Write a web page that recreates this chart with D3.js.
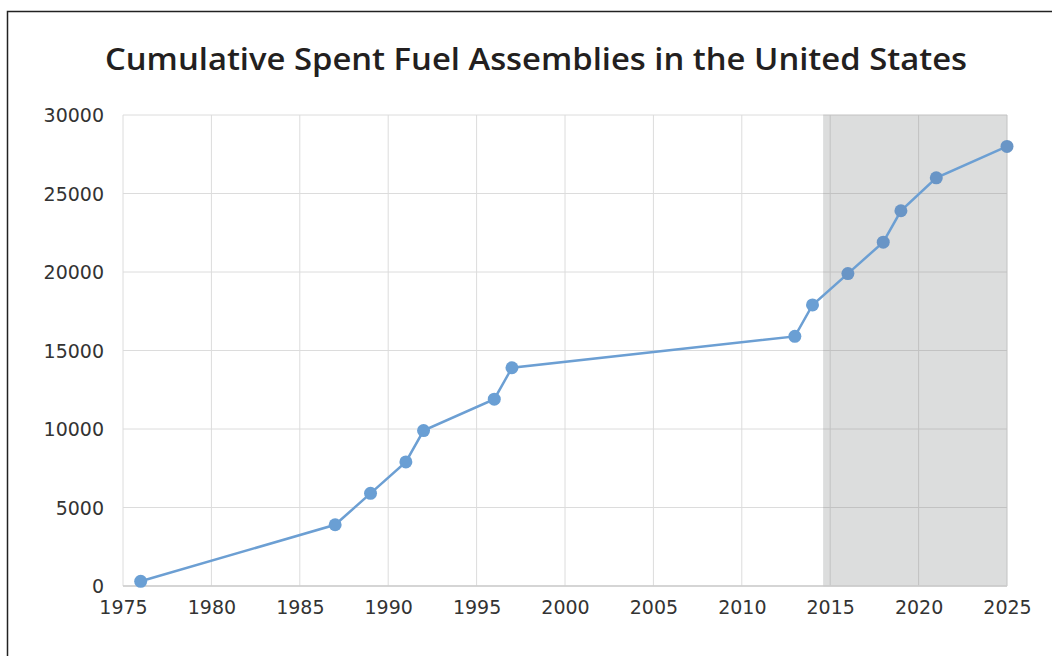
<!DOCTYPE html>
<html><head><meta charset="utf-8">
<script src="https://cdn.jsdelivr.net/npm/d3@7"></script>
<style>body{margin:0;background:#fff;} svg{display:block;}</style>
</head><body>
<svg id="chart" width="1052" height="656"></svg>
<script>
const years = [1976, 1987, 1989, 1991, 1992, 1996, 1997, 2013, 2014, 2016, 2018, 2019, 2021, 2025];
const assemblies = [300, 3900, 5900, 7900, 9900, 11900, 13900, 15900, 17900, 19900, 21900, 23900, 26000, 28000];
const xTicks = [1975, 1980, 1985, 1990, 1995, 2000, 2005, 2010, 2015, 2020, 2025];
const yTicks = [0, 5000, 10000, 15000, 20000, 25000, 30000];
const shadeStart = [2014.6];
const title = "Cumulative Spent Fuel Assemblies in the United States";

const svg = d3.select("#chart");
const x = d3.scaleLinear().domain([1975, 2025]).range([123, 1007]);
const y = d3.scaleLinear().domain([0, 30000]).range([586, 115]);

// frame
svg.append("path").attr("d", "M7.5,656 L7.5,11.5 L1052,11.5")
  .attr("fill", "none").attr("stroke", "#222").attr("stroke-width", 1.5);

// title
svg.append("text").attr("x", 536).attr("y", 70).attr("text-anchor", "middle")
  .attr("font-family", "'Open Sans', Lato, sans-serif").attr("font-weight", 600)
  .attr("font-size", 31).attr("fill", "#231f20")
  .attr("textLength", 862).attr("lengthAdjust", "spacingAndGlyphs").text(title);

// shaded region
svg.append("rect").attr("x", x(shadeStart[0])).attr("y", y(30000))
  .attr("width", x(2025) - x(shadeStart[0])).attr("height", y(0) - y(30000))
  .attr("fill", "#dcdddd");

// gridlines
const grid = svg.append("g");
xTicks.forEach(t => {
  grid.append("line").attr("x1", x(t)).attr("x2", x(t)).attr("y1", y(30000)).attr("y2", y(0))
    .attr("stroke", t >= shadeStart[0] ? "#c2c2c2" : "#dcdcdc").attr("stroke-width", 1);
});
yTicks.forEach(t => {
  grid.append("line").attr("x1", x(1975)).attr("x2", x(shadeStart[0])).attr("y1", y(t)).attr("y2", y(t))
    .attr("stroke", "#dcdcdc").attr("stroke-width", 1);
  grid.append("line").attr("x1", x(shadeStart[0])).attr("x2", x(2025)).attr("y1", y(t)).attr("y2", y(t))
    .attr("stroke", "#c2c2c2").attr("stroke-width", 1);
});
// axis baseline
svg.append("line").attr("x1", x(1975)).attr("x2", x(2025)).attr("y1", y(0)).attr("y2", y(0))
  .attr("stroke", "#cccccc").attr("stroke-width", 1.5);

// axes
const xAxis = svg.append("g").attr("transform", `translate(0,${y(0)})`)
  .call(d3.axisBottom(x).tickValues(xTicks).tickFormat(d3.format("d")).tickSize(0).tickPadding(15));
const yAxis = svg.append("g").attr("transform", `translate(${x(1975) - 19},0)`)
  .call(d3.axisLeft(y).tickValues(yTicks).tickFormat(d3.format("d")).tickSize(0).tickPadding(0));
[xAxis, yAxis].forEach(a => {
  a.select(".domain").remove();
  a.selectAll("text").attr("font-family", "'DejaVu Sans', sans-serif").attr("font-size", 19)
    .attr("fill", "#333");
});
yAxis.selectAll("text").attr("dy", "0.35em");

// line + points
const data = years.map((yr, i) => ({yr, v: assemblies[i]}));
svg.append("path").datum(data)
  .attr("d", d3.line().x(d => x(d.yr)).y(d => y(d.v)))
  .attr("fill", "none").attr("stroke", "#6c9fd3").attr("stroke-width", 2.5);
svg.append("g").selectAll("circle").data(data).join("circle")
  .attr("cx", d => x(d.yr)).attr("cy", d => y(d.v)).attr("r", 6.5)
  .attr("fill", d => d.yr >= shadeStart[0] ? "#6995c6" : "#6a9fd4");
</script>
</body></html>
